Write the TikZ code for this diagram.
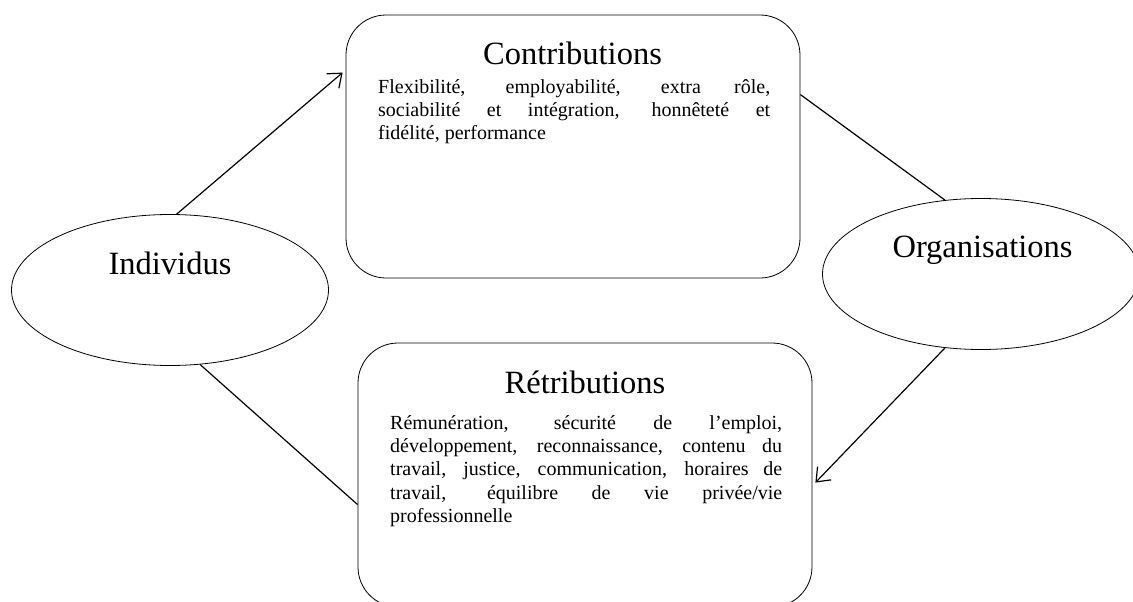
\documentclass[tikz,border=0pt]{standalone}
\usepackage{fontspec}
\setmainfont{Liberation Serif}
\usetikzlibrary{shapes.geometric,arrows.meta}
\newcommand{\bodyfont}{\fontsize{20pt}{23.3pt}\selectfont}
\newcommand{\titlefont}{\fontsize{32.5pt}{38pt}\selectfont}
\tikzset{
  ell/.style={draw, ellipse, line width=0.8pt, inner sep=0pt, minimum width=317pt, minimum height=151pt},
  rbox/.style={draw, rectangle, rounded corners=40pt, line width=0.8pt, inner sep=0pt, minimum width=454pt, minimum height=263pt},
  ttl/.style={anchor=base, inner sep=0pt, font=\titlefont},
  bodytxt/.style={anchor=base west, inner sep=0pt, font=\bodyfont},
  conn/.style={line width=1.2pt},
  arr/.style={conn, -{Straight Barb[length=12pt,width=19pt,line width=1.2pt]}}
}
\begin{document}
\begin{tikzpicture}[x=1pt,y=-1pt]
\useasboundingbox (0,0) rectangle (1133,602);
% shapes
\node[rbox] (contrib) at (573,146.5) {};
\node[rbox, minimum height=264pt] (retrib) at (585,475) {};
\node[ell] (ind) at (170,290) {};
\node[ell] (org) at (981,274) {};
% texts
\node[ttl] (contribT) at (572.5,65) {Contributions};
\node[bodytxt] (contribB) at (378,93.3) {\vtop{\bodyfont\hsize=392pt\baselineskip=23.3pt
  \hbox to 392pt{\bodyfont Flexibilité, employabilité, extra rôle,}
  \hbox to 392pt{\bodyfont sociabilité et intégration, honnêteté et}
  \hbox{\bodyfont fidélité, performance}}};
\node[ttl] (retribT) at (585,393) {Rétributions};
\node[bodytxt] (retribB) at (390,429.3) {\vtop{\bodyfont\hsize=392pt\baselineskip=23.3pt
  \hbox to 392pt{\bodyfont Rémunération, sécurité de l’emploi,}
  \hbox to 392pt{\bodyfont développement, reconnaissance, contenu du}
  \hbox to 392pt{\bodyfont travail, justice, communication, horaires de}
  \hbox to 392pt{\bodyfont travail, équilibre de vie privée/vie}
  \hbox{\bodyfont professionnelle}}};
\node[ttl] (indT) at (170,274) {Individus};
\node[ttl] (orgT) at (982.5,257) {Organisations};
% connectors
\draw[arr] (ind.85) -- ([xshift=-3pt,yshift=-58pt]contrib.north west);
\draw[conn] ([yshift=-80pt]contrib.north east) -- (org.116);
\draw[arr] (org.244) -- ([xshift=3pt,yshift=-140pt]retrib.north east);
\draw[conn] (ind.-68) -- ([yshift=-162pt]retrib.north west);
\end{tikzpicture}
\end{document}
